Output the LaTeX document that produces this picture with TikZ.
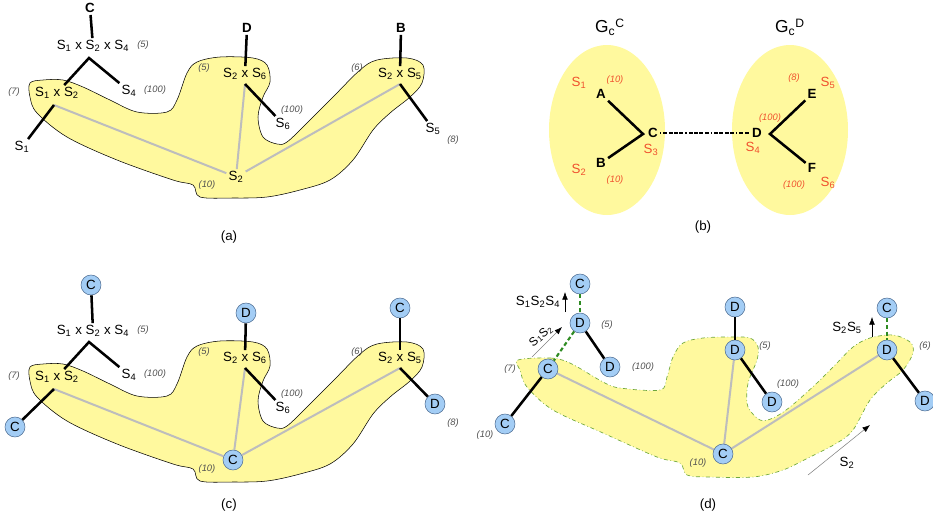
\documentclass[tikz,border=0pt]{standalone}
\usepackage{fontspec}
\setmainfont{Liberation Sans}
\usepackage{tikz}
\usetikzlibrary{arrows.meta}
\definecolor{muted}{HTML}{505050}
\definecolor{blobfill}{HTML}{FFF99E}
\definecolor{vtxfill}{HTML}{A3CDF5}
\definecolor{vtxline}{HTML}{4F6E94}
\definecolor{pathgray}{HTML}{BDBDBD}
\definecolor{redlbl}{HTML}{F0512E}
\definecolor{dgreen}{HTML}{2E8B22}
\definecolor{lgreen}{HTML}{6FA83C}
\newcommand{\sx}[1]{S\textsubscript{#1}}

\begin{document}
\begin{tikzpicture}[
  x=0.75pt,y=-0.75pt,
  lbl/.style={font=\fontsize{10}{12}\selectfont,inner sep=1.5pt},
  lblb/.style={lbl,font=\fontsize{10}{12}\selectfont\bfseries},
  wt/.style={font=\fontsize{7}{8}\selectfont\itshape,text=muted,inner sep=1pt},
  rlbl/.style={lbl,text=redlbl},
  rwt/.style={wt,text=redlbl},
  glbl/.style={font=\fontsize{13}{15}\selectfont,inner sep=1pt},
  vtx/.style={circle,draw=vtxline,fill=vtxfill,minimum size=15pt,inner sep=0pt,font=\fontsize{10}{12}\selectfont},
  tree/.style={line width=1.9pt},
  route/.style={line width=1.5pt,color=pathgray},
  blob/.style={fill=blobfill,draw=black,line width=0.4pt},
  blobd/.style={fill=blobfill,draw=lgreen,line width=0.5pt,dash dot},
  gdash/.style={line width=1.6pt,color=dgreen,dash pattern=on 3pt off 2pt},
  link/.style={line width=1.7pt,dash pattern=on 1pt off 1.5pt on 3pt off 1pt on 3pt off 1pt on 3pt off 1pt on 3pt off 1.5pt},
  arr/.style={-{Latex[length=2mm,black]},thin},
  caption/.style={font=\fontsize{10}{12}\selectfont}
]
\useasboundingbox (0,0) rectangle (933,519);

% (a)
\path[blob] plot[smooth cycle,tension=0.55] coordinates {
  (30,83) (43,80) (63,80) (83,87) (110,100) (137,112) (167,112) (177,100)
  (187,73) (197,62) (220,57) (253,58) (267,65) (270,82) (263,97) (258,117)
  (263,137) (277,144) (287,142) (307,123) (333,97) (360,70) (377,60) (407,58)
  (423,65) (422,83) (410,97) (390,113) (373,130) (353,160) (330,180) (300,190)
  (267,197) (233,198) (200,197) (193,185) (173,180) (117,160) (67,137) (37,113) (30,97)};
\node[lblb] (a-C) at (90,8) {C};
\node[lbl] (a-s124) at (93,46) {\sx{1} x \sx{2} x \sx{4}};
\node[wt] (a-w5) at (143,45) {(5)};
\node[lbl] (a-s12) at (57,93) {\sx{1} x \sx{2}};
\node[wt] (a-w7) at (14,92) {(7)};
\node[lbl] (a-s4) at (129,91) {\sx{4}};
\node[wt] (a-w100) at (155,90) {(100)};
\node[lbl] (a-s1) at (22,147) {\sx{1}};
\node[lbl] (a-s2) at (236,177) {\sx{2}};
\node[wt] (a-w10) at (207,185) {(10)};
\node[lblb] (a-D) at (247,28) {D};
\node[lbl] (a-s26) at (245,74) {\sx{2} x \sx{6}};
\node[wt] (a-w5b) at (204,68) {(5)};
\node[lbl] (a-s6) at (283,124) {\sx{6}};
\node[wt] (a-w100b) at (292,110) {(100)};
\node[lblb] (a-B) at (401,28) {B};
\node[lbl] (a-s25) at (400,74) {\sx{2} x \sx{5}};
\node[wt] (a-w6) at (357,68) {(6)};
\node[lbl] (a-s5) at (433,129) {\sx{5}};
\node[wt] (a-w8) at (453,140) {(8)};
\coordinate (a-j0) at (89,58);
\coordinate (a-j1) at (54,105);
\coordinate (a-j2) at (245,84);
\coordinate (a-j3) at (400,84);
\draw[route] (a-j1) -- (a-s2);
\draw[route] (a-j2) -- (a-s2);
\draw[route] (a-j3) -- (a-s2);
\draw[tree] (a-C) -- (a-s124);
\draw[tree] (a-s12) -- (a-j0) -- (a-s4);
\draw[tree] (a-j1) -- (a-s1);
\draw[tree] (a-D) -- (a-s26);
\draw[tree] (a-j2) -- (a-s6);
\draw[tree] (a-B) -- (a-s25);
\draw[tree] (a-j3) -- (a-s5);
\node[caption] (a-cap) at (229,237) {(a)};

% (b)
\fill[blobfill] (607,130) ellipse [x radius=43.5pt,y radius=63.75pt];
\fill[blobfill] (790,130) ellipse [x radius=43.5pt,y radius=63.75pt];
\node[glbl] (b-gc) at (610,27) {G\textsubscript{c}\textsuperscript{C}};
\node[glbl] (b-gd) at (790,27) {G\textsubscript{c}\textsuperscript{D}};
\node[lblb] (b-A) at (601,94) {A};
\node[lblb] (b-B) at (601,163) {B};
\node[lblb] (b-C) at (653,133) {C};
\node[lblb] (b-D) at (757,133) {D};
\node[lblb] (b-E) at (812,94) {E};
\node[lblb] (b-F) at (812,168) {F};
\node[rlbl] (b-s1) at (579,83) {\sx{1}};
\node[rwt] (b-w1) at (615,80) {(10)};
\node[rlbl] (b-s3) at (651,150) {\sx{3}};
\node[rlbl] (b-s2) at (579,170) {\sx{2}};
\node[rwt] (b-w2) at (615,180) {(10)};
\node[rlbl] (b-s4) at (753,148) {\sx{4}};
\node[rwt] (b-w4) at (770,118) {(100)};
\node[rlbl] (b-s5) at (828,83) {\sx{5}};
\node[rwt] (b-w5) at (794,78) {(8)};
\node[rlbl] (b-s6) at (828,183) {\sx{6}};
\node[rwt] (b-w6) at (794,185) {(100)};
\coordinate (b-jc) at (643,134);
\coordinate (b-jd) at (770,134);
\draw[tree] (b-A) -- (b-jc) -- (b-B);
\draw[tree] (b-E) -- (b-jd) -- (b-F);
\draw[link] (b-C) -- (b-D);
\node[caption] (b-cap) at (703,227) {(b)};

% (c)
\begin{scope}[shift={(0,284)}]
\path[blob] plot[smooth cycle,tension=0.55] coordinates {
  (30,83) (43,80) (63,80) (83,87) (110,100) (137,112) (167,112) (177,100)
  (187,73) (197,62) (220,57) (253,58) (267,65) (270,82) (263,97) (258,117)
  (263,137) (277,144) (287,142) (307,123) (333,97) (360,70) (377,60) (407,58)
  (423,65) (422,83) (410,97) (390,113) (373,130) (353,160) (330,180) (300,190)
  (267,197) (233,198) (200,197) (193,185) (173,180) (117,160) (67,137) (37,113) (30,97)};
\node[vtx] (c-C1) at (91,1) {C};
\node[lbl] (c-s124) at (93,47) {\sx{1} x \sx{2} x \sx{4}};
\node[wt] (c-w5) at (143,46) {(5)};
\node[lbl] (c-s12) at (57,93) {\sx{1} x \sx{2}};
\node[wt] (c-w7) at (14,92) {(7)};
\node[lbl] (c-s4) at (129,91) {\sx{4}};
\node[wt] (c-w100) at (155,90) {(100)};
\node[vtx] (c-C2) at (15,143) {C};
\node[vtx] (c-C3) at (233,176) {C};
\node[wt] (c-w10) at (207,185) {(10)};
\node[vtx] (c-D1) at (246,29) {D};
\node[lbl] (c-s26) at (245,74) {\sx{2} x \sx{6}};
\node[wt] (c-w5b) at (204,68) {(5)};
\node[lbl] (c-s6) at (283,124) {\sx{6}};
\node[wt] (c-w100b) at (292,110) {(100)};
\node[vtx] (c-C4) at (400,24) {C};
\node[lbl] (c-s25) at (400,74) {\sx{2} x \sx{5}};
\node[wt] (c-w6) at (357,68) {(6)};
\node[vtx] (c-D2) at (435,120) {D};
\node[wt] (c-w8) at (453,139) {(8)};
\coordinate (c-j0) at (89,58);
\coordinate (c-j1) at (54,105);
\coordinate (c-j2) at (245,84);
\coordinate (c-j3) at (400,84);
\draw[route] (c-j1) -- (c-C3);
\draw[route] (c-j2) -- (c-C3);
\draw[route] (c-j3) -- (c-C3);
\draw[tree] (c-C1) -- (c-s124);
\draw[tree] (c-s12) -- (c-j0) -- (c-s4);
\draw[tree] (c-j1) -- (c-C2);
\draw[tree] (c-D1) -- (c-s26);
\draw[tree] (c-j2) -- (c-s6);
\draw[tree] (c-C4) -- (c-s25);
\draw[tree] (c-j3) -- (c-D2);
\node[caption] (c-cap) at (229,221) {(c)};
\end{scope}

% (d)
\path[blobd] plot[smooth cycle,tension=0.55] coordinates {
  (518,360) (550,358) (570,363) (603,382) (620,388) (660,390) (667,377) (673,357)
  (683,343) (703,338) (730,337) (750,338) (758,347) (757,360) (750,377) (747,390)
  (748,407) (760,420) (773,418) (790,407) (817,383) (837,363) (853,347) (870,338)
  (893,335) (910,342) (913,353) (903,370) (887,383) (870,400) (853,430) (837,443)
  (810,457) (783,470) (753,477) (710,477) (687,475) (680,463) (657,457) (603,433)
  (553,410) (527,387) (520,370)};
\draw[route] (548,369) coordinate (d-p1) -- (723,454) coordinate (d-p0);
\draw[route] (735,350) coordinate (d-p2) -- (d-p0);
\draw[route] (887,350) coordinate (d-p3) -- (d-p0);
\node[vtx] (d-C1) at (580,284) {C};
\node[vtx] (d-D1) at (580,323) {D};
\node[vtx] (d-D2) at (610,367) {D};
\node[vtx] (d-C2) at (d-p1) {C};
\node[vtx] (d-C3) at (505,424) {C};
\node[vtx] (d-D3) at (735,307) {D};
\node[vtx] (d-D4) at (d-p2) {D};
\node[vtx] (d-D5) at (772,402) {D};
\node[vtx] (d-C4) at (d-p0) {C};
\node[vtx] (d-C5) at (887,308) {C};
\node[vtx] (d-D6) at (d-p3) {D};
\node[vtx] (d-D7) at (925,401) {D};
\draw[gdash] (d-C1) -- (d-D1);
\draw[gdash] (d-D1) -- (d-C2);
\draw[gdash] (d-C5) -- (d-D6);
\draw[tree] (d-D1) -- (d-D2);
\draw[tree] (d-C2) -- (d-C3);
\draw[tree] (d-D3) -- (d-D4);
\draw[tree] (d-D4) -- (d-D5);
\draw[tree] (d-D6) -- (d-D7);
\node[wt] (d-w5) at (607,325) {(5)};
\node[wt] (d-w100) at (643,367) {(100)};
\node[wt] (d-w7) at (510,369) {(7)};
\node[wt] (d-w10) at (485,435) {(10)};
\node[wt] (d-w5b) at (765,346) {(5)};
\node[wt] (d-w100b) at (788,384) {(100)};
\node[wt] (d-w10b) at (698,463) {(10)};
\node[wt] (d-w6) at (925,346) {(6)};
% moves
\node[lbl] (d-m124) at (538,302) {\sx{1}\sx{2}\sx{4}};
\coordinate (d-u1a) at (565,312);
\coordinate (d-u1b) at (565,292);
\draw[arr] (d-u1a) -- (d-u1b);
\node[lbl,rotate=40,font=\fontsize{9}{11}\selectfont] (d-m12) at (541,336) {\sx{1}\sx{2}};
\coordinate (d-u2a) at (532,357);
\coordinate (d-u2b) at (562,327);
\draw[arr,draw=gray] (d-u2a) -- (d-u2b);
\node[lbl] (d-m25) at (847,328) {\sx{2}\sx{5}};
\coordinate (d-u3a) at (872,337);
\coordinate (d-u3b) at (872,317);
\draw[arr] (d-u3a) -- (d-u3b);
\node[lbl] (d-m2) at (847,463) {\sx{2}};
\coordinate (d-u4a) at (808,475);
\coordinate (d-u4b) at (870,425);
\draw[arr,draw=gray] (d-u4a) -- (d-u4b);
\node[caption] (d-cap) at (708,505) {(d)};
\end{tikzpicture}
\end{document}
